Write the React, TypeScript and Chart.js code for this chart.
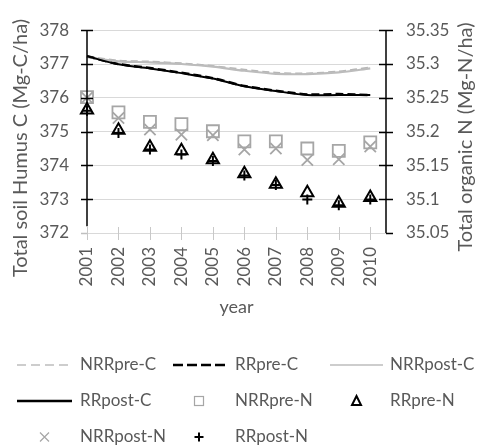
import React, { useEffect, useRef } from "react";
import { Chart, registerables } from "chart.js";

Chart.register(...registerables);

const years = [2001, 2002, 2003, 2004, 2005, 2006, 2007, 2008, 2009, 2010];
const leftTicks = [372, 373, 374, 375, 376, 377, 378];
const rightTicks = [35.05, 35.1, 35.15, 35.2, 35.25, 35.3, 35.35];

const nrrPreC = [377.22, 377.1, 377.07, 377.02, 376.94, 376.83, 376.74, 376.72, 376.78, 376.9];
const rrPreC = [377.23, 377.0, 376.88, 376.74, 376.58, 376.35, 376.21, 376.1, 376.11, 376.08];
const nrrPostC = [377.2, 377.08, 377.05, 377.0, 376.92, 376.8, 376.71, 376.7, 376.75, 376.87];
const rrPostC = [377.23, 376.99, 376.87, 376.73, 376.57, 376.34, 376.2, 376.08, 376.08, 376.08];

const nrrPreN = [35.251, 35.2285, 35.2145, 35.211, 35.2005, 35.1855, 35.1855, 35.175, 35.1715, 35.184];
const rrPreN = [35.232, 35.202, 35.177, 35.1715, 35.1585, 35.1375, 35.122, 35.1095, 35.094, 35.1025];
const nrrPostN = [35.25, 35.22, 35.203, 35.1955, 35.1945, 35.1735, 35.175, 35.158, 35.159, 35.178];
const rrPostN = [35.231, 35.198, 35.1735, 35.166, 35.1565, 35.135, 35.121, 35.0995, 35.091, 35.0995];

const FONT = "Lato, 'Open Sans', sans-serif";
const TEXT = "#595959";

const pts = (arr: number[]) => years.map((x, i) => ({ x, y: arr[i] }));

type LegendItem = { label: string; kind: string; col: number; row: number };
const legendItems: LegendItem[] = [
  { label: "NRRpre-C", kind: "grayDash", col: 0, row: 0 },
  { label: "RRpre-C", kind: "blackDash", col: 1, row: 0 },
  { label: "NRRpost-C", kind: "grayLine", col: 2, row: 0 },
  { label: "RRpost-C", kind: "blackLine", col: 0, row: 1 },
  { label: "NRRpre-N", kind: "square", col: 1, row: 1 },
  { label: "RRpre-N", kind: "triangle", col: 2, row: 1 },
  { label: "NRRpost-N", kind: "x", col: 0, row: 2 },
  { label: "RRpost-N", kind: "plus", col: 1, row: 2 },
];

const decorPlugin = {
  id: "decor",
  afterDraw(chart: any) {
    const ctx = chart.ctx as CanvasRenderingContext2D;
    const area = chart.chartArea;
    const ys = chart.scales.y;
    const y1 = chart.scales.y1;
    const xs = chart.scales.x;
    ctx.save();
    // left axis
    ctx.strokeStyle = "#000";
    ctx.lineWidth = 1.5;
    ctx.beginPath();
    ctx.moveTo(area.left, area.top);
    ctx.lineTo(area.left, ys.getPixelForValue(372.2));
    ctx.stroke();
    leftTicks.forEach((v) => {
      const py = Math.round(ys.getPixelForValue(v)) + 0.5;
      ctx.strokeStyle = v === 372 ? "#bfbfbf" : "#000";
      ctx.beginPath();
      ctx.moveTo(area.left - 6, py);
      ctx.lineTo(v === 372 ? area.left : area.left + 6, py);
      ctx.stroke();
    });
    // right axis
    ctx.strokeStyle = "#000";
    ctx.beginPath();
    ctx.moveTo(area.right, area.top);
    ctx.lineTo(area.right, area.bottom);
    ctx.stroke();
    rightTicks.forEach((v) => {
      const py = Math.round(y1.getPixelForValue(v)) + 0.5;
      ctx.beginPath();
      ctx.moveTo(v === 35.05 ? area.right : area.right - 7, py);
      ctx.lineTo(area.right + 7, py);
      ctx.stroke();
    });
    // x ticks
    ctx.strokeStyle = "#c8c8c8";
    ctx.lineWidth = 1;
    years.forEach((v) => {
      const px = Math.round(xs.getPixelForValue(v)) + 0.5;
      ctx.beginPath();
      ctx.moveTo(px, area.bottom - 6);
      ctx.lineTo(px, area.bottom + 7);
      ctx.stroke();
    });
    // titles
    ctx.fillStyle = TEXT;
    ctx.font = `20px ${FONT}`;
    ctx.textAlign = "center";
    ctx.textBaseline = "middle";
    ctx.save();
    ctx.translate(21, 148);
    ctx.rotate(-Math.PI / 2);
    ctx.fillText("Total soil Humus C (Mg-C/ha)", 0, 0);
    ctx.restore();
    ctx.save();
    ctx.translate(466, 137);
    ctx.rotate(-Math.PI / 2);
    ctx.fillText("Total organic N (Mg-N/ha)", 0, 0);
    ctx.restore();
    ctx.font = `18px ${FONT}`;
    ctx.fillText("year", (area.left + area.right) / 2, 307);

    // legend
    const colSym = [
      [17, 72],
      [173, 225],
      [330, 383],
    ];
    const colText = [80, 235, 390];
    const rowY = [365, 401, 437];
    ctx.textAlign = "left";
    legendItems.forEach((it) => {
      const [a, b] = colSym[it.col];
      const cy = rowY[it.row];
      const cx = (a + b) / 2;
      ctx.save();
      ctx.setLineDash([]);
      if (it.kind === "grayDash") {
        ctx.strokeStyle = "#bdbdbd";
        ctx.lineWidth = 1.5;
        ctx.setLineDash([9, 5]);
        ctx.beginPath();
        ctx.moveTo(a, cy);
        ctx.lineTo(b, cy);
        ctx.stroke();
      } else if (it.kind === "blackDash") {
        ctx.strokeStyle = "#000";
        ctx.lineWidth = 2.5;
        ctx.setLineDash([10, 4]);
        ctx.beginPath();
        ctx.moveTo(a, cy);
        ctx.lineTo(b, cy);
        ctx.stroke();
      } else if (it.kind === "grayLine") {
        ctx.strokeStyle = "#bdbdbd";
        ctx.lineWidth = 1.5;
        ctx.beginPath();
        ctx.moveTo(a, cy);
        ctx.lineTo(b, cy);
        ctx.stroke();
      } else if (it.kind === "blackLine") {
        ctx.strokeStyle = "#000";
        ctx.lineWidth = 2.5;
        ctx.beginPath();
        ctx.moveTo(a, cy);
        ctx.lineTo(b, cy);
        ctx.stroke();
      } else if (it.kind === "square") {
        ctx.strokeStyle = "#a6a6a6";
        ctx.lineWidth = 1.2;
        ctx.strokeRect(cx - 4.5, cy - 4.5, 9, 9);
      } else if (it.kind === "triangle") {
        ctx.strokeStyle = "#000";
        ctx.lineWidth = 2;
        ctx.beginPath();
        ctx.moveTo(cx, cy - 5);
        ctx.lineTo(cx + 4.5, cy + 4);
        ctx.lineTo(cx - 4.5, cy + 4);
        ctx.closePath();
        ctx.stroke();
      } else if (it.kind === "x") {
        ctx.strokeStyle = "#a6a6a6";
        ctx.lineWidth = 1.2;
        ctx.beginPath();
        ctx.moveTo(cx - 4.5, cy - 4.5);
        ctx.lineTo(cx + 4.5, cy + 4.5);
        ctx.moveTo(cx + 4.5, cy - 4.5);
        ctx.lineTo(cx - 4.5, cy + 4.5);
        ctx.stroke();
      } else if (it.kind === "plus") {
        ctx.strokeStyle = "#000";
        ctx.lineWidth = 2;
        ctx.beginPath();
        ctx.moveTo(cx - 4.5, cy);
        ctx.lineTo(cx + 4.5, cy);
        ctx.moveTo(cx, cy - 4.5);
        ctx.lineTo(cx, cy + 4.5);
        ctx.stroke();
      }
      ctx.restore();
      ctx.fillStyle = TEXT;
      ctx.font = `17px ${FONT}`;
      ctx.textBaseline = "middle";
      ctx.fillText(it.label, colText[it.col], cy);
    });
    ctx.restore();
  },
};

export default function App() {
  const ref = useRef<HTMLCanvasElement | null>(null);
  useEffect(() => {
    if (!ref.current) return;
    const lineBase = { pointRadius: 0, fill: false, tension: 0.3, yAxisID: "y", clip: false as any };
    const ptBase = { showLine: false, yAxisID: "y1", clip: false as any, backgroundColor: "rgba(0,0,0,0)" };
    const chart = new Chart(ref.current, {
      type: "line",
      data: {
        datasets: [
          { ...lineBase, label: "NRRpre-C", data: pts(nrrPreC), borderColor: "#b5b5b5", borderWidth: 2, borderDash: [7, 4], order: 10 },
          { ...lineBase, label: "RRpre-C", data: pts(rrPreC), borderColor: "#000", borderWidth: 2.5, borderDash: [8, 4], order: 9 },
          { ...lineBase, label: "NRRpost-C", data: pts(nrrPostC), borderColor: "#bcbcbc", borderWidth: 2.2, order: 8 },
          { ...lineBase, label: "RRpost-C", data: pts(rrPostC), borderColor: "#000", borderWidth: 2, order: 7 },
          { ...ptBase, label: "NRRpre-N", data: pts(nrrPreN), borderColor: "#a6a6a6", pointStyle: "rect", pointRadius: 8.5, borderWidth: 1.8, order: 6 },
          { ...ptBase, label: "RRpre-N", data: pts(rrPreN), borderColor: "#000", pointStyle: "triangle", pointRadius: 7, borderWidth: 2, order: 5 },
          { ...ptBase, label: "NRRpost-N", data: pts(nrrPostN), borderColor: "#a6a6a6", pointStyle: "crossRot", pointRadius: 8, borderWidth: 1.8, order: 4 },
          { ...ptBase, label: "RRpost-N", data: pts(rrPostN), borderColor: "#000", pointStyle: "cross", pointRadius: 5, borderWidth: 2, order: 3 },
        ] as any,
      },
      options: {
        animation: false,
        responsive: false,
        events: [],
        layout: { padding: { top: 18, bottom: 113, left: 0, right: 0 } },
        plugins: { legend: { display: false }, tooltip: { enabled: false } },
        scales: {
          x: {
            type: "linear",
            min: 2001,
            max: 2010.5,
            afterBuildTicks: (s: any) => {
              s.ticks = years.map((v) => ({ value: v }));
            },
            afterFit: (s: any) => {
              s.height = 100;
            },
            grid: { display: false, drawTicks: false },
            border: { display: false },
            ticks: {
              minRotation: 90,
              maxRotation: 90,
              autoSkip: false,
              padding: 14,
              color: TEXT,
              font: { family: FONT, size: 17 },
              callback: (v: any) => String(v),
            },
          },
          y: {
            type: "linear",
            position: "left",
            min: 372,
            max: 378,
            afterBuildTicks: (s: any) => {
              s.ticks = leftTicks.map((v) => ({ value: v }));
            },
            afterFit: (s: any) => {
              s.width = 87;
            },
            grid: { color: "#d9d9d9", lineWidth: 1, drawTicks: false },
            border: { display: false },
            ticks: {
              padding: 18,
              color: TEXT,
              font: { family: FONT, size: 17 },
              callback: (v: any) => String(v),
            },
          },
          y1: {
            type: "linear",
            position: "right",
            min: 35.05,
            max: 35.35,
            afterBuildTicks: (s: any) => {
              s.ticks = rightTicks.map((v) => ({ value: v }));
            },
            afterFit: (s: any) => {
              s.width = 92;
            },
            grid: { display: false, drawTicks: false },
            border: { display: false },
            ticks: {
              padding: 20,
              color: TEXT,
              font: { family: FONT, size: 17 },
              callback: (v: any) => String(Number(Number(v).toFixed(2))),
            },
          },
        },
      },
      plugins: [decorPlugin],
    });
    return () => chart.destroy();
  }, []);
  return (
    <div style={{ position: "fixed", left: 0, top: 0, width: 478, height: 446, background: "#fff" }}>
      <canvas ref={ref} width={478} height={446} style={{ display: "block" }} />
    </div>
  );
}
